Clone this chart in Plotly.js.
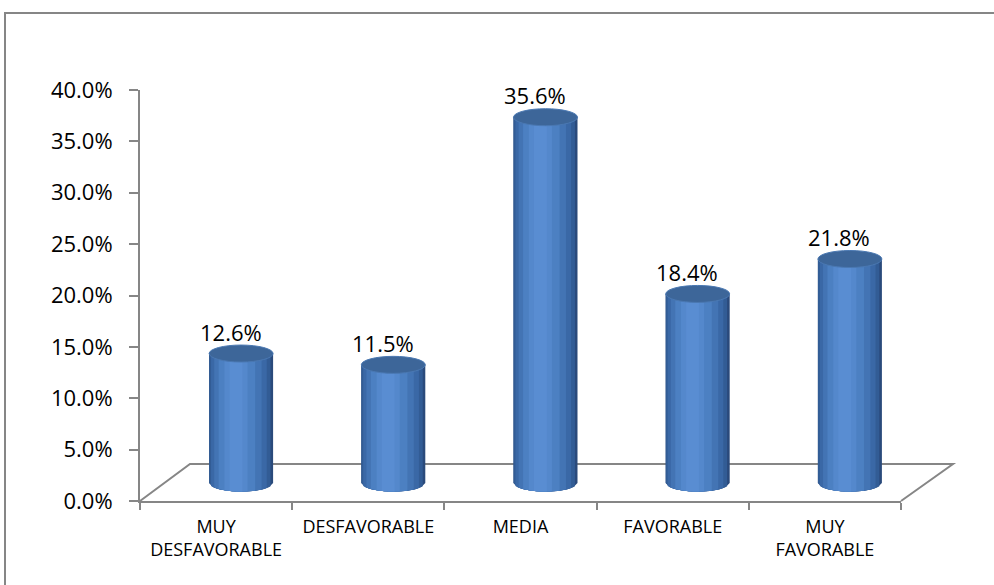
<!DOCTYPE html>
<html><head><meta charset="utf-8">
<script src="https://cdn.plot.ly/plotly-3.0.1.min.js"></script>
<style>html,body{margin:0;padding:0;background:#fff}#chart{width:994px;height:585px}</style>
</head><body><div id="chart"></div><script>
// ---- data ----
const categories = ["MUY<br>DESFAVORABLE", "DESFAVORABLE", "MEDIA", "FAVORABLE", "MUY<br>FAVORABLE"];
const values = [12.6, 11.5, 35.6, 18.4, 21.8];
const valueLabels = ["12.6%", "11.5%", "35.6%", "18.4%", "21.8%"];
const yTickVals = [0, 5, 10, 15, 20, 25, 30, 35, 40];
const yTickText = ["0.0%", "5.0%", "10.0%", "15.0%", "20.0%", "25.0%", "30.0%", "35.0%", "40.0%"];

// ---- layout geometry / style ----
const W = 994, H = 585;
const M = {l: 140, r: 93, t: 90, b: 84};
const plotW = W - M.l - M.r, plotH = H - M.t - M.b;
const pxX = plotW / categories.length, pxY = plotH / 40;
const shiftX = 25 / pxX, shiftY = 18 / pxY;   // perspective depth offset of the cylinders
const cylW = 64 / pxX, rx = cylW / 2, ry = 8.5 / pxY;
const xs = categories.map((c, i) => i);
const cx = xs.map(x => x + shiftX);
const boundaries = xs.concat([xs.length]).map(i => i - 0.5);
const GRAY = '#868686';
const FONT = 'Open Sans, Liberation Sans, sans-serif';

const layers = [
  [0.00, 1.00, '#2A4A7B'],
  [0.00, 0.96, '#325C95'],
  [0.03, 0.90, '#3A68A6'],
  [0.08, 0.82, '#4374B4'],
  [0.15, 0.72, '#4C80C2'],
  [0.24, 0.60, '#5488CC'],
  [0.32, 0.52, '#598DD2']
];

const traces = layers.map(([a, b, col]) => ({
  type: 'bar', x: xs, y: values, base: shiftY,
  width: (b - a) * cylW, offset: shiftX - rx + a * cylW,
  marker: {color: col, line: {width: 0}}, hoverinfo: 'skip', showlegend: false
}));

const px2pX = p => (p - M.l) / plotW;
const px2pY = p => (H - M.b - p) / plotH;

const shapes = [];
// outer border
shapes.push({type: 'rect', xref: 'paper', yref: 'paper', layer: 'below',
  x0: px2pX(5), x1: px2pX(1100), y0: px2pY(700), y1: px2pY(13),
  line: {color: GRAY, width: 2}, fillcolor: 'rgba(0,0,0,0)'});
// floor
shapes.push({type: 'path', xref: 'paper', yref: 'paper', layer: 'below',
  path: `M ${px2pX(140)},${px2pY(501)} L ${px2pX(190)},${px2pY(464)} L ${px2pX(953)},${px2pY(464)} L ${px2pX(901)},${px2pY(501)}`,
  line: {color: GRAY, width: 2}});
// bottom caps
cx.forEach(c => {
  layers.forEach(([a, b, col]) => {
    const x0 = c - rx + a * cylW, x1 = c - rx + b * cylW;
    const N = 16; let p = `M ${x0},${shiftY}`;
    for (let k = 0; k <= N; k++) {
      const xx = x0 + (x1 - x0) * k / N;
      const t = Math.max(0, 1 - Math.pow((xx - c) / rx, 2));
      p += ` L ${xx},${shiftY - ry * Math.sqrt(t)}`;
    }
    p += ` L ${x1},${shiftY} Z`;
    shapes.push({type: 'path', xref: 'x', yref: 'y', layer: 'below', path: p,
      fillcolor: col, line: {width: 0}});
  });
});
// top ellipses
cx.forEach((c, i) => {
  const top = values[i] + shiftY;
  shapes.push({type: 'circle', xref: 'x', yref: 'y', layer: 'above',
    x0: c - rx, x1: c + rx, y0: top - ry, y1: top + ry,
    fillcolor: '#3D6699', line: {color: '#4A78B2', width: 1}});
});

const annotations = values.map((v, i) => ({
  x: cx[i] - 10.5 / pxX, y: v + shiftY, xref: 'x', yref: 'y', text: valueLabels[i],
  showarrow: false, yanchor: 'bottom', yshift: 5,
  font: {family: FONT, size: 22, color: '#000'}
}));

const layout = {
  width: W, height: H, margin: M, paper_bgcolor: '#fff', plot_bgcolor: 'rgba(0,0,0,0)',
  barmode: 'overlay', showlegend: false, font: {family: FONT, color: '#000'},
  xaxis: {range: [-0.5, 4.5], tickmode: 'array', tickvals: xs, ticktext: categories,
    ticks: '', showline: true, linecolor: GRAY, linewidth: 2, showgrid: false, zeroline: false,
    tickfont: {family: FONT, size: 18, color: '#000'}, ticklabelstandoff: 8, fixedrange: true,
    minor: {tickmode: 'array', tickvals: boundaries, ticks: 'outside', ticklen: 7,
      tickwidth: 2, tickcolor: GRAY, showgrid: false}},
  yaxis: {range: [0, 40], tickmode: 'array', tickvals: yTickVals, ticktext: yTickText,
    ticks: 'outside', ticklen: 9, tickwidth: 2, tickcolor: GRAY, showline: true,
    linecolor: GRAY, linewidth: 2, showgrid: false, zeroline: false, ticklabelstandoff: 12,
    tickfont: {family: FONT, size: 22, color: '#000'}, fixedrange: true},
  shapes: shapes, annotations: annotations
};

Plotly.newPlot('chart', traces, layout, {displayModeBar: false, staticPlot: true});
</script></body></html>
